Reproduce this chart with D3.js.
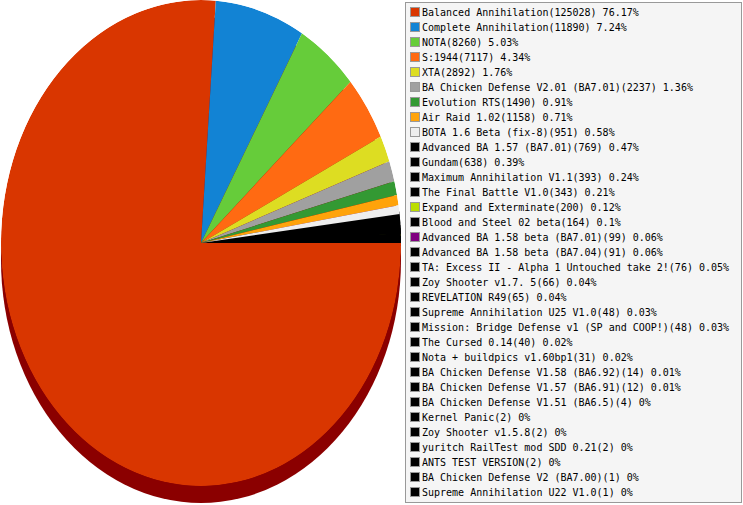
<!DOCTYPE html>
<html><head><meta charset="utf-8">
<script src="https://cdn.jsdelivr.net/npm/d3@7"></script>
<style>html,body{margin:0;padding:0;background:#fff;overflow:hidden}</style>
</head><body>
<svg id="c" width="743" height="505"></svg>
<script>
const names = ["Balanced Annihilation","Complete Annihilation","NOTA","S:1944","XTA","BA Chicken Defense V2.01 (BA7.01)","Evolution RTS","Air Raid 1.02","BOTA 1.6 Beta (fix-8)","Advanced BA 1.57 (BA7.01)","Gundam","Maximum Annihilation V1.1","The Final Battle V1.0","Expand and Exterminate","Blood and Steel 02 beta","Advanced BA 1.58 beta (BA7.01)","Advanced BA 1.58 beta (BA7.04)","TA: Excess II - Alpha 1 Untouched take 2!","Zoy Shooter v1.7. 5","REVELATION R49","Supreme Annihilation U25 V1.0","Mission: Bridge Defense v1 (SP and COOP!)","The Cursed 0.14","Nota + buildpics v1.60bp1","BA Chicken Defense V1.58 (BA6.92)","BA Chicken Defense V1.57 (BA6.91)","BA Chicken Defense V1.51 (BA6.5)","Kernel Panic","Zoy Shooter v1.5.8","yuritch RailTest mod SDD 0.21","ANTS TEST VERSION","BA Chicken Defense V2 (BA7.00)","Supreme Annihilation U22 V1.0"];
const counts = [125028,11890,8260,7117,2892,2237,1490,1158,951,769,638,393,343,200,164,99,91,76,66,65,48,48,40,31,14,12,4,2,2,2,2,1,1];
const percents = ["76.17","7.24","5.03","4.34","1.76","1.36","0.91","0.71","0.58","0.47","0.39","0.24","0.21","0.12","0.1","0.06","0.06","0.05","0.04","0.04","0.03","0.03","0.02","0.02","0.01","0.01","0","0","0","0","0","0","0"];
const colors = ["#d93600","#1283d4","#66cc3a","#ff6a12","#dddd22","#a0a0a0","#339933","#ffa30a","#eeeeee","#000000","#000000","#000000","#000000","#bbdd00","#000000","#800080","#000000","#000000","#000000","#000000","#000000","#000000","#000000","#000000","#000000","#000000","#000000","#000000","#000000","#000000","#000000","#000000","#000000"];

const svg = d3.select("#c");
const cx = 201, cy = 243, rx = 200, ry = 243, depth = 17;

const data = names.map((n,i)=>({name:n, value:counts[i], pct:percents[i], color:colors[i], idx:i}));
const pie = d3.pie().sort(null).value(d=>d.value).startAngle(Math.PI/2).endAngle(Math.PI/2 + 2*Math.PI);
const arcs = pie(data);
const arc = d3.arc().innerRadius(0).outerRadius(1);

svg.append("defs").append("clipPath").attr("id","faceClip")
  .append("ellipse").attr("cx",cx).attr("cy",cy).attr("rx",rx).attr("ry",ry);

// rim (3D depth)
svg.append("g").attr("transform",`translate(${cx},${cy+depth}) scale(${rx},${ry})`)
  .append("ellipse").attr("cx",0).attr("cy",0).attr("rx",1).attr("ry",1).attr("fill","#8b0000");

// draw the small tail slices first, then the large ones on top
const order = arcs.slice(9).concat(arcs.slice(0,9));
const face = svg.append("g").attr("clip-path","url(#faceClip)")
  .append("g").attr("transform",`translate(${cx},${cy}) scale(${rx},${ry})`);
face.selectAll("path").data(order).join("path")
  .attr("d",arc).attr("fill",d=>d.data.color)
  .attr("stroke",d=>d.data.color==="#000000" ? "#000" : "none")
  .attr("stroke-width",5).attr("stroke-linejoin","miter").attr("vector-effect","non-scaling-stroke");

// legend
const lg = svg.append("g");
lg.append("rect").attr("x",405.5).attr("y",2.5).attr("width",336).attr("height",500)
  .attr("fill","#f5f5f5").attr("stroke","#999").attr("stroke-width",1);
const y = d3.scalePoint().domain(d3.range(data.length)).range([12,492]);
const items = lg.selectAll("g.it").data(data).join("g").attr("class","it")
  .attr("transform",(d,i)=>`translate(0,${y(i)})`);
items.append("rect").attr("x",410.5).attr("y",-4.5).attr("width",9).attr("height",9)
  .attr("fill",d=>d.color).attr("stroke","#999").attr("stroke-width",1);
items.append("text").attr("x",422).attr("y",0).attr("dy","0.36em")
  .attr("font-family","DejaVu Sans Mono, monospace").attr("font-size",10).attr("fill","#000")
  .text(d=>`${d.name}(${d.value}) ${d.pct}%`);
</script>
</body></html>
